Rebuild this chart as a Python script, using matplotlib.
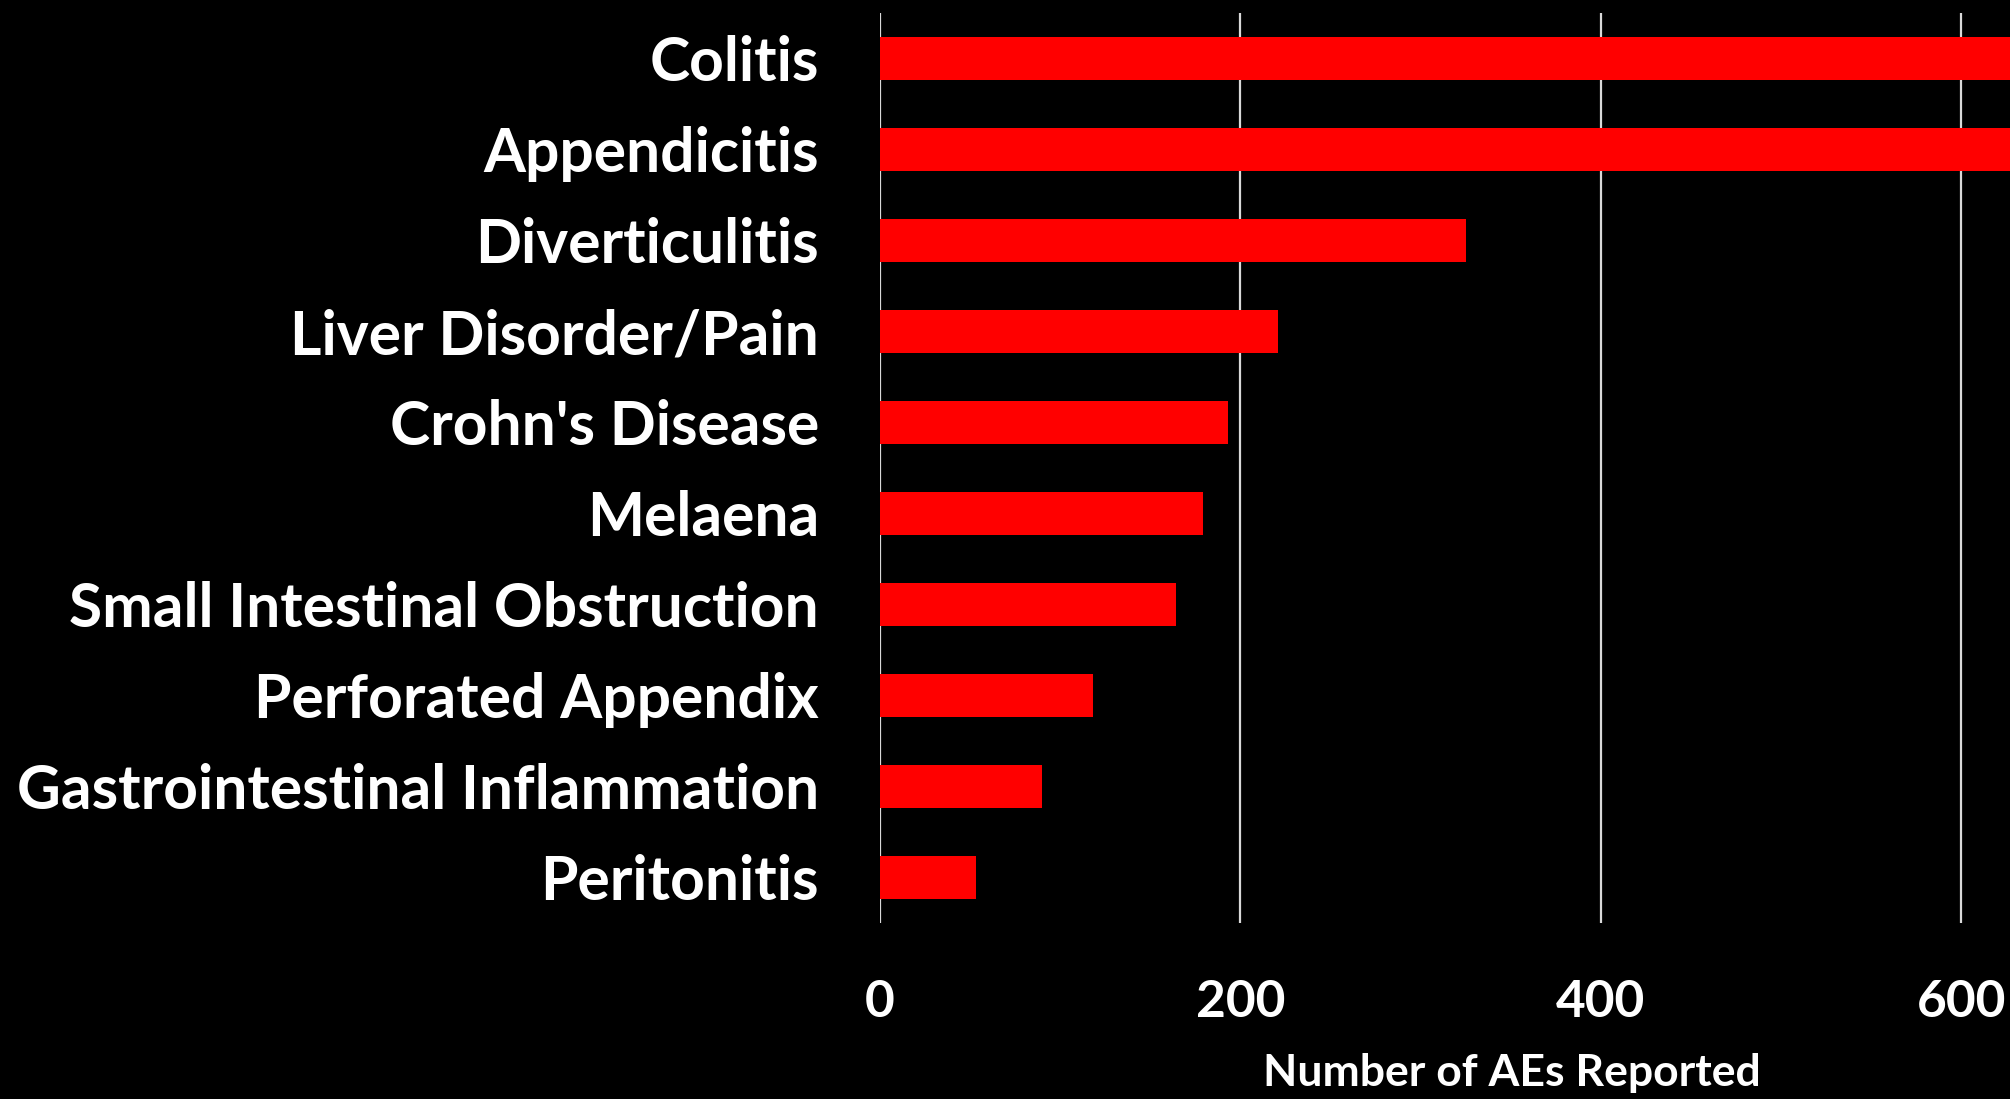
import matplotlib
matplotlib.use('Agg')
import matplotlib.pyplot as plt

# adverse event categories, top to bottom
categories = ['Colitis', 'Appendicitis', 'Diverticulitis', 'Liver Disorder/Pain',
              "Crohn's Disease", 'Melaena', 'Small Intestinal Obstruction',
              'Perforated Appendix', 'Gastrointestinal Inflammation', 'Peritonitis']
# first two run off the edge of the chart
counts = [780, 700, 325, 221, 193, 179, 164, 118, 90, 53]
xticks = [0, 200, 400, 600]

plt.rcParams['font.family'] = ['Lato', 'DejaVu Sans']
plt.rcParams['font.weight'] = 'bold'

fig = plt.figure(figsize=(20.1, 10.99), dpi=100, facecolor='black')
ax = fig.add_axes([880/2010, 1 - 923/1099, 1 - 880/2010, (923 - 13)/1099])
ax.set_facecolor('black')

ypos = list(range(len(categories)))
ax.barh(ypos, counts, height=0.48, color='#ff0000', zorder=3)
ax.set_ylim(len(categories) - 0.5, -0.5)
ax.set_xlim(0, 627)

ax.set_yticks(ypos)
ax.set_yticklabels(categories)
ax.set_xticks(xticks)
ax.set_xticklabels([str(t) for t in xticks])
ax.tick_params(axis='y', length=0, pad=44, labelsize=43.6, labelcolor='white')
ax.tick_params(axis='x', length=0, pad=40, labelsize=37, labelcolor='white')

ax.grid(axis='x', color='#d9d9d9', linewidth=1.6, zorder=0)
for s in ax.spines.values():
    s.set_visible(False)

fig.text(1512/2010, 1 - 1073/1099, 'Number of AEs Reported', color='white',
         fontsize=32, fontweight='bold', ha='center', va='center')

fig.savefig('out.png', dpi=100, facecolor='black')
